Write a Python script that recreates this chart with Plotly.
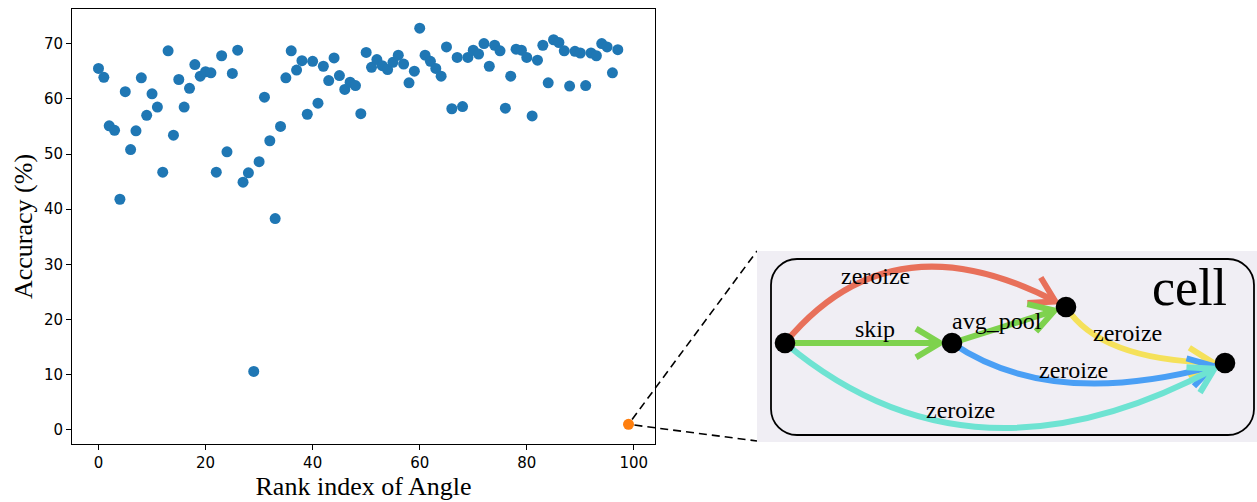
import math
import plotly.graph_objects as go

# ---------------- data ----------------
rank_index = list(range(98))
accuracy = [65.5, 63.9, 55.1, 54.3, 41.8, 61.3, 50.8, 54.2, 63.8, 57.0,
            60.9, 58.5, 46.7, 68.7, 53.4, 63.5, 58.5, 61.9, 66.2, 64.1,
            64.9, 64.7, 46.7, 67.8, 50.4, 64.6, 68.8, 44.9, 46.6, 10.6,
            48.6, 60.3, 52.4, 38.3, 55.0, 63.8, 68.7, 65.2, 66.9, 57.2,
            66.8, 59.2, 65.9, 63.3, 67.4, 64.2, 61.7, 63.0, 62.4, 57.3,
            68.4, 65.7, 67.1, 66.0, 65.3, 66.6, 67.9, 66.3, 62.9, 65.0,
            72.8, 67.9, 66.8, 65.5, 64.1, 69.4, 58.2, 67.5, 58.6, 67.5,
            68.8, 68.1, 70.0, 65.9, 69.7, 68.7, 58.3, 64.1, 69.0, 68.8,
            67.5, 56.9, 67.0, 69.7, 62.9, 70.7, 70.2, 68.7, 62.3, 68.6,
            68.3, 62.4, 68.3, 67.8, 70.0, 69.4, 64.7, 68.9]
highlight_rank = [99]
highlight_acc = [1.03]

x_ticks = [0, 20, 40, 60, 80, 100]
y_ticks = [0, 10, 20, 30, 40, 50, 60, 70]

edge_labels = ["zeroize", "skip", "avg_pool", "zeroize", "zeroize", "zeroize"]
cell_label = "cell"

# ---------------- layout geometry ----------------
W, H = 1257, 502
ML, MR, MT, MB = 72, 602, 9, 58
PW, PH = W - ML - MR, H - MT - MB
XR = [-4.95, 103.95]
YR = [-2.54, 76.27]


def pp(px, py):
    """pixel -> paper coords"""
    return (px - ML) / PW, (H - MB - py) / PH


def d2px(x, y):
    return (ML + (x - XR[0]) / (XR[1] - XR[0]) * PW,
            H - MB - (y - YR[0]) / (YR[1] - YR[0]) * PH)


def fmt(pt):
    a, b = pp(*pt)
    return f"{a:.5f},{b:.5f}"


shapes = []

# dashed connector lines from the highlighted point to the inset
hx, hy = d2px(highlight_rank[0], highlight_acc[0])
for cx, cy in [(757, 251), (757, 441)]:
    dx, dy = cx - hx, cy - hy
    L = math.hypot(dx, dy)
    sx, sy = hx + dx / L * 6, hy + dy / L * 6
    x0, y0 = pp(sx, sy)
    x1, y1 = pp(cx, cy)
    shapes.append(dict(type="line", xref="paper", yref="paper",
                       x0=x0, y0=y0, x1=x1, y1=y1,
                       line=dict(color="black", width=1.6, dash="8px,5px")))

# inset background
bx0, by0 = pp(757, 442)
bx1, by1 = pp(1257, 251)
shapes.append(dict(type="rect", xref="paper", yref="paper",
                   x0=bx0, y0=by0, x1=bx1, y1=by1,
                   fillcolor="#f0eef4", line=dict(width=0), layer="above"))

# rounded rectangle
rx0, ry0, rx1, ry1, rr = 771, 259, 1254, 435, 26
k = 0.5523 * rr
rpath = (f"M {fmt((rx0 + rr, ry0))} L {fmt((rx1 - rr, ry0))} "
         f"C {fmt((rx1 - rr + k, ry0))} {fmt((rx1, ry0 + rr - k))} {fmt((rx1, ry0 + rr))} "
         f"L {fmt((rx1, ry1 - rr))} "
         f"C {fmt((rx1, ry1 - rr + k))} {fmt((rx1 - rr + k, ry1))} {fmt((rx1 - rr, ry1))} "
         f"L {fmt((rx0 + rr, ry1))} "
         f"C {fmt((rx0 + rr - k, ry1))} {fmt((rx0, ry1 - rr + k))} {fmt((rx0, ry1 - rr))} "
         f"L {fmt((rx0, ry0 + rr))} "
         f"C {fmt((rx0, ry0 + rr - k))} {fmt((rx0 + rr - k, ry0))} {fmt((rx0 + rr, ry0))} Z")
shapes.append(dict(type="path", xref="paper", yref="paper", path=rpath,
                   line=dict(color="black", width=1.8), fillcolor="rgba(0,0,0,0)"))

# nodes
nodes = {"A": (785, 343), "B": (952, 343), "C": (1066, 307), "D": (1225, 363)}

# edges: (from, to, control point or None, colour)
edges = [
    ("A", "C", (890, 215), "#e8705a"),
    ("A", "B", None, "#7ed24e"),
    ("B", "C", None, "#7ed24e"),
    ("C", "D", (1100, 360), "#f5e15a"),
    ("B", "D", (1050, 410), "#4a9ff5"),
    ("A", "D", (970, 499), "#6ee3d2"),
]
EW = 6
for a, b, ctrl, col in edges:
    p0 = nodes[a]
    pn = nodes[b]
    c = ctrl if ctrl is not None else ((p0[0] + pn[0]) / 2, (p0[1] + pn[1]) / 2)
    tx, ty = pn[0] - c[0], pn[1] - c[1]
    tl = math.hypot(tx, ty)
    ux, uy = tx / tl, ty / tl
    tip = (pn[0] - 12 * ux, pn[1] - 12 * uy)
    if ctrl is None:
        path = f"M {fmt(p0)} L {fmt(tip)}"
    else:
        path = f"M {fmt(p0)} Q {fmt(ctrl)} {fmt(tip)}"
    shapes.append(dict(type="path", xref="paper", yref="paper", path=path,
                       line=dict(color=col, width=EW), fillcolor="rgba(0,0,0,0)"))
    # chevron arrowhead: rotate the back-vector (-ux, -uy) by +/- 31 degrees
    ang = math.radians(31)
    wl = 28
    wings = []
    for s in (1, -1):
        ca, sa = math.cos(s * ang), math.sin(s * ang)
        vx = -ux * ca + uy * sa
        vy = -ux * sa - uy * ca
        wings.append((tip[0] + wl * vx, tip[1] + wl * vy))
    apath = f"M {fmt(wings[0])} L {fmt(tip)} L {fmt(wings[1])}"
    shapes.append(dict(type="path", xref="paper", yref="paper", path=apath,
                       line=dict(color=col, width=EW), fillcolor="rgba(0,0,0,0)"))

NR = 10.3
for name, (nx, ny) in nodes.items():
    x0, y0 = pp(nx - NR, ny + NR)
    x1, y1 = pp(nx + NR, ny - NR)
    shapes.append(dict(type="circle", xref="paper", yref="paper",
                       x0=x0, y0=y0, x1=x1, y1=y1,
                       fillcolor="black", line=dict(color="black", width=0)))

# labels
label_pos = [(875, 276), (875, 329), (997, 321), (1127, 333), (1073, 370), (960, 410)]
annotations = []
for txt, (lx, ly) in zip(edge_labels, label_pos):
    ax, ay = pp(lx, ly)
    annotations.append(dict(text=txt, x=ax, y=ay, xref="paper", yref="paper",
                            showarrow=False, xanchor="center", yanchor="middle",
                            font=dict(family="Liberation Serif", size=24, color="black")))
cx_, cy_ = pp(1189, 287)
annotations.append(dict(text=cell_label, x=cx_, y=cy_, xref="paper", yref="paper",
                        showarrow=False, xanchor="center", yanchor="middle",
                        font=dict(family="Liberation Serif", size=52, color="black")))

# ---------------- figure ----------------
fig = go.Figure()
fig.add_trace(go.Scatter(x=rank_index, y=accuracy, mode="markers",
                         marker=dict(color="#1f77b4", size=11), showlegend=False))
fig.add_trace(go.Scatter(x=highlight_rank, y=highlight_acc, mode="markers",
                         marker=dict(color="#ff7f0e", size=11), showlegend=False))

axis_common = dict(showline=True, linecolor="black", linewidth=1, mirror=True,
                   ticks="outside", ticklen=5, tickwidth=1, tickcolor="black",
                   showgrid=False, zeroline=False,
                   tickfont=dict(family="DejaVu Sans", size=15, color="black"))
fig.update_layout(
    width=W, height=H,
    margin=dict(l=ML, r=MR, t=MT, b=MB),
    paper_bgcolor="white", plot_bgcolor="white",
    xaxis=dict(range=XR, tickvals=x_ticks, automargin=False,
               title=dict(text="Rank index of Angle", standoff=2,
                          font=dict(family="Liberation Serif", size=26, color="black")),
               **axis_common),
    yaxis=dict(range=YR, tickvals=y_ticks, automargin=False,
               title=dict(text="Accuracy (%)", standoff=3,
                          font=dict(family="Liberation Serif", size=26, color="black")),
               **axis_common),
    shapes=shapes,
    annotations=annotations,
)

fig.write_html("out.html", config={"displayModeBar": False},
               post_script="document.body.style.margin='0';document.body.style.overflow='hidden';")
